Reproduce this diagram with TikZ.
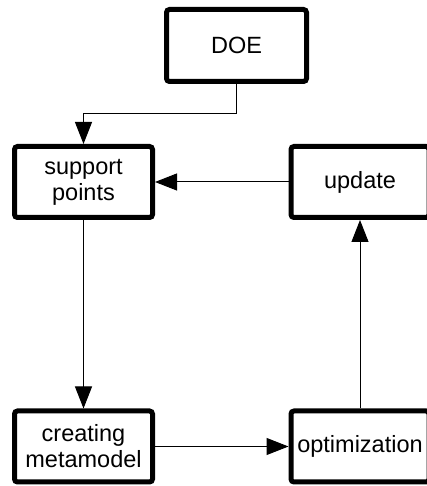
\documentclass[tikz,border=0pt]{standalone}
\usepackage{fontspec}
\setmainfont{Liberation Sans}
\usepackage{tikz}
\usetikzlibrary{arrows.meta, positioning, calc}
\tikzset{
  stage/.style={rectangle, rounded corners=3pt, minimum width=138pt, minimum height=71pt, inner sep=1pt, outer sep=2.5pt, text centered, align=center, draw=black, line width=5pt, fill=white, font=\fontsize{23.5}{26}\selectfont},
  arrow/.style={line width=1pt, -{Triangle[length=22pt, width=17pt]}, color=black}
}
\begin{document}
\begin{tikzpicture}[x=1pt, y=1pt]
  \useasboundingbox (0,0) rectangle (427,486);
  \node (sp) [stage] at (83.5,304) {support\\ points};
  \node (upd) [stage, right=133.5pt of sp] {update};
  \node (cm) [stage, below=188.5pt of sp] {creating\\ metamodel};
  \node (opt) [stage, right=133.5pt of cm] {optimization};
  \node (doe) [stage, minimum width=140pt, minimum height=72pt] at (236.5,440.5) {DOE};
  \draw [arrow] (doe.south) -- ++(0,-30) -| (sp.north);
  \draw [arrow] (upd) -- (sp);
  \draw [arrow] (sp) -- (cm);
  \draw [arrow] (cm) -- (opt);
  \draw [arrow] (opt) -- (upd);
\end{tikzpicture}
\end{document}
